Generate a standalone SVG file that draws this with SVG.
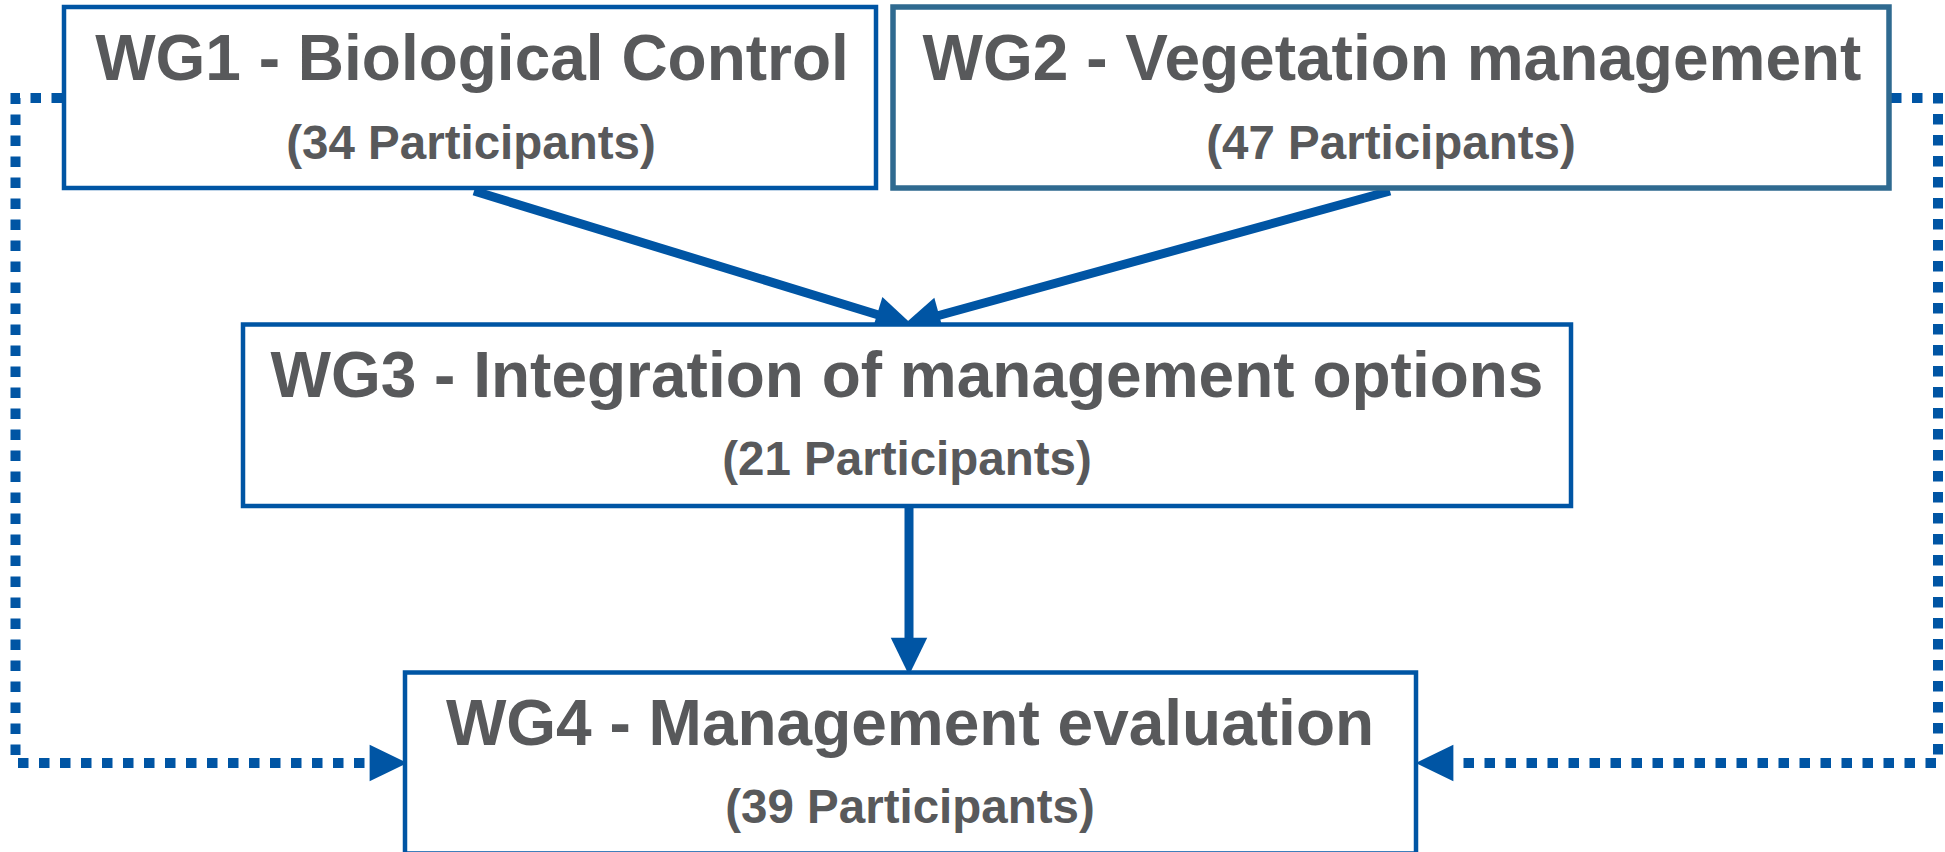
<svg xmlns="http://www.w3.org/2000/svg" width="1945" height="852" viewBox="0 0 1945 852">
  <style>
    .box { fill: #ffffff; stroke: #0055A4; stroke-width: 4.5; }
    .box2 { fill: #ffffff; stroke: #2F6A90; stroke-width: 5.5; }
    .title { font-family: "Liberation Sans", Arial, sans-serif; font-weight: bold; font-size: 64px; fill: #58595B; text-anchor: middle; }
    .sub { font-family: "Liberation Sans", Arial, sans-serif; font-weight: bold; font-size: 47.5px; fill: #58595B; text-anchor: middle; }
    .solid { fill: none; stroke: #0055A4; stroke-width: 9; }
    .dotted { fill: none; stroke: #0055A4; stroke-width: 10; stroke-dasharray: 10.5 10.5; }
  </style>
  <defs>
    <marker id="head" markerUnits="userSpaceOnUse" markerWidth="40" markerHeight="40" viewBox="0 -16 34 32" refX="2" refY="0" orient="auto" overflow="visible">
      <path d="M0,-15.5 L32,0 L0,15.5 Z" fill="#0055A4" stroke="none"/>
    </marker>
  </defs>
  <rect width="1945" height="852" fill="#ffffff"/>

  <g id="connectors">
    <path class="solid" d="M474,191 L879.3,315.2" marker-end="url(#head)"/>
    <path class="solid" d="M1390,191 L936.9,316" marker-end="url(#head)"/>
    <path class="solid" d="M909,506 L909,640" marker-end="url(#head)"/>
    <path class="dotted" d="M62,98 L15.5,98 L15.5,763 L372,763" marker-end="url(#head)"/>
    <path class="dotted" d="M1891,98 L1938,98 L1938,763 L1451,763" marker-end="url(#head)"/>
  </g>

  <g id="wg1">
    <rect class="box" x="64" y="7" width="812" height="181"/>
    <text class="title" x="472" y="80">WG1 - Biological Control</text>
    <text class="sub" x="471" y="159">(34 Participants)</text>
  </g>
  <g id="wg2">
    <rect class="box2" x="893" y="7" width="996" height="181"/>
    <text class="title" x="1392" y="80">WG2 - Vegetation management</text>
    <text class="sub" x="1391" y="159">(47 Participants)</text>
  </g>
  <g id="wg3">
    <rect class="box" x="243" y="324.5" width="1328" height="181.5"/>
    <text class="title" x="907" y="397">WG3 - Integration of management options</text>
    <text class="sub" x="907" y="475">(21 Participants)</text>
  </g>
  <g id="wg4">
    <rect class="box" x="405" y="672.5" width="1011" height="181"/>
    <text class="title" x="910" y="745">WG4 - Management evaluation</text>
    <text class="sub" x="910" y="823">(39 Participants)</text>
  </g>
</svg>
